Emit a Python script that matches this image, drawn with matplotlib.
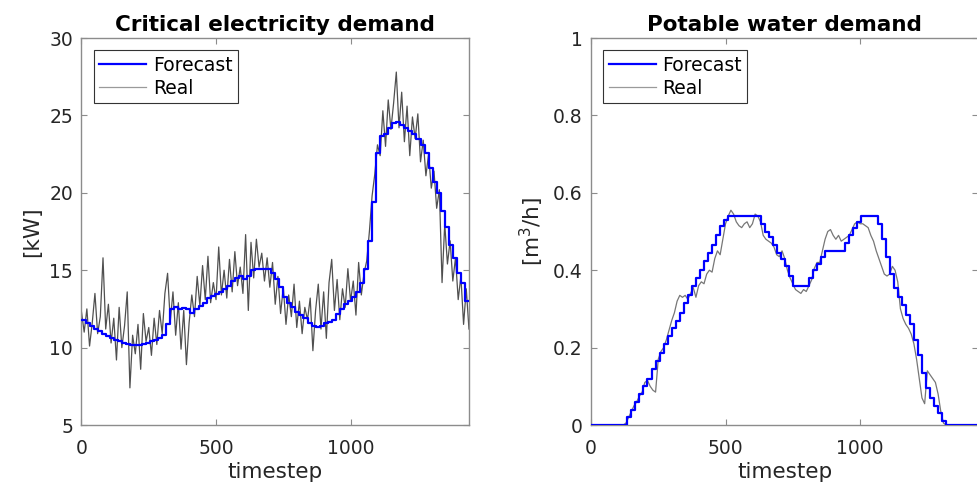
import numpy as np
import matplotlib.pyplot as plt

plt.rcParams['font.family'] = ['DejaVu Sans']

# Forecast: one value every 15 timesteps (96 steps)
step_t = np.arange(0, 1440, 15)

elec_forecast = [
    11.8, 11.6, 11.4, 11.2, 11.05, 10.9, 10.75, 10.65, 10.5, 10.4,
    10.3, 10.25, 10.2, 10.2, 10.2, 10.25, 10.3, 10.4, 10.5, 10.6,
    10.8, 11.5, 12.5, 12.6, 12.5, 12.55, 12.5, 12.25, 12.5, 12.7,
    12.9, 13.2, 13.35, 13.45, 13.6, 13.8, 14.0, 14.3, 14.5, 14.65,
    14.4, 14.6, 15.0, 15.1, 15.1, 15.1, 15.1, 14.8, 14.4, 13.9,
    13.3, 12.9, 12.6, 12.3, 12.1, 11.9, 11.6, 11.4, 11.3, 11.4,
    11.6, 11.65, 11.8, 12.2, 12.5, 12.8, 13.0, 13.3, 13.6, 14.2,
    15.1, 16.9, 19.4, 22.6, 23.7, 23.8, 24.2, 24.5, 24.6, 24.4,
    24.2, 24.0, 23.8, 23.5, 23.1, 22.6, 21.6, 20.7, 20.0, 18.8,
    17.8, 16.6, 15.8, 14.8, 14.2, 13.0,
]

water_forecast = [
    0, 0, 0, 0, 0, 0, 0, 0, 0, 0.02,
    0.04, 0.06, 0.08, 0.10, 0.12, 0.145, 0.165, 0.185, 0.21, 0.23,
    0.25, 0.27, 0.29, 0.315, 0.335, 0.36, 0.38, 0.40, 0.425, 0.445,
    0.465, 0.49, 0.515, 0.53, 0.54, 0.54, 0.54, 0.54, 0.54, 0.54,
    0.54, 0.54, 0.52, 0.50, 0.485, 0.465, 0.445, 0.43, 0.41, 0.385,
    0.36, 0.36, 0.36, 0.36, 0.38, 0.40, 0.415, 0.435, 0.45, 0.45,
    0.45, 0.45, 0.45, 0.47, 0.49, 0.51, 0.525, 0.54, 0.54, 0.54,
    0.54, 0.52, 0.48, 0.435, 0.39, 0.355, 0.33, 0.31, 0.285, 0.26,
    0.22, 0.18, 0.135, 0.095, 0.07, 0.05, 0.03, 0.01, 0, 0,
    0, 0, 0, 0, 0, 0,
]

# Real: one value every 10 timesteps
real_t = np.arange(0, 1441, 10)

elec_real = [
    12.3, 11.0, 12.5, 10.1, 11.6, 13.5, 10.9, 12.0, 15.8, 11.2,
    12.8, 10.3, 11.9, 9.2, 12.6, 10.0, 11.4, 13.6, 7.4, 10.8,
    9.6, 11.5, 8.6, 12.2, 10.4, 11.3, 9.5, 11.9, 10.2, 12.4,
    10.9, 13.5, 14.8, 11.7, 13.6, 10.8, 12.9, 9.9, 12.4, 8.9,
    11.6, 13.4, 12.0, 14.6, 12.7, 15.3, 13.1, 15.9, 12.9, 14.2,
    13.1, 16.5, 13.4, 15.0, 13.2, 15.7, 13.6, 16.2, 14.0, 15.2,
    13.5, 17.3, 12.4, 16.8, 14.5, 17.0, 15.2, 16.1, 14.3, 15.8,
    13.9, 15.5, 12.8, 14.6, 12.2, 13.9, 11.5, 13.4, 12.0, 14.1,
    11.3, 13.0, 10.9, 12.6, 11.8, 13.2, 9.8, 12.4, 14.1, 11.2,
    13.6, 10.6, 14.2, 15.7, 12.4, 14.4, 11.8, 13.8, 12.6, 15.1,
    13.0, 14.3, 12.1, 15.5, 13.4, 14.8, 15.6, 17.5, 19.8, 21.2,
    23.1, 22.4, 25.3, 23.0, 26.0, 24.1, 25.8, 27.8, 24.2, 26.5,
    23.3, 25.6, 22.4, 24.9, 23.5, 25.1, 22.0, 23.4, 21.1, 22.5,
    20.3, 21.4, 19.0, 20.2, 14.2, 18.0, 15.4, 16.9, 14.3, 15.8,
    13.1, 14.6, 11.5, 13.8, 11.2,
]

water_real = [
    0, 0, 0, 0, 0, 0, 0, 0, 0, 0, 0, 0, 0,
    0.005, 0.02, 0.035, 0.05, 0.06, 0.075, 0.085, 0.11, 0.115, 0.10,
    0.09, 0.085, 0.17, 0.19, 0.20, 0.22, 0.245, 0.27, 0.29, 0.32,
    0.335, 0.33, 0.335, 0.325, 0.34, 0.355, 0.33, 0.36, 0.37, 0.365,
    0.39, 0.40, 0.395, 0.43, 0.45, 0.44, 0.48, 0.52, 0.54, 0.555,
    0.545, 0.525, 0.515, 0.51, 0.52, 0.525, 0.51, 0.52, 0.545, 0.54,
    0.525, 0.49, 0.48, 0.475, 0.47, 0.46, 0.44, 0.435, 0.45, 0.43,
    0.40, 0.38, 0.365, 0.35, 0.345, 0.34, 0.35, 0.345, 0.36, 0.375,
    0.405, 0.42, 0.42, 0.45, 0.48, 0.50, 0.505, 0.49, 0.48, 0.49,
    0.475, 0.48, 0.485, 0.49, 0.505, 0.52, 0.525, 0.52, 0.52, 0.515,
    0.51, 0.49, 0.475, 0.45, 0.43, 0.41, 0.39, 0.385, 0.39, 0.41,
    0.40, 0.37, 0.30, 0.275, 0.26, 0.25, 0.235, 0.21, 0.17, 0.12,
    0.07, 0.055, 0.14, 0.13, 0.12, 0.11, 0.08, 0.035, 0.005,
    0, 0, 0, 0, 0, 0, 0, 0, 0, 0, 0, 0, 0,
]

x_ticks = [0, 500, 1000]
elec_ticks = [5, 10, 15, 20, 25, 30]
water_ticks = [0, 0.2, 0.4, 0.6, 0.8, 1]
water_tick_labels = ["0", "0.2", "0.4", "0.6", "0.8", "1"]

fig = plt.figure(figsize=(9.77, 4.91), dpi=100)
ax1 = fig.add_axes([0.0834, 0.1344, 0.3966, 0.7882])
ax2 = fig.add_axes([0.6049, 0.1344, 0.3966, 0.7882])

axis_gray = "#8c8c8c"
text_gray = "#262626"


def draw_panel(ax, forecast, real, real_color, title, ylabel, ylim, yticks, ytick_labels=None):
    st = np.append(step_t, 1440)
    fv = np.append(forecast, forecast[-1])
    ax.step(st, fv, where="post", color="#0000ff", lw=1.6, label="Forecast", zorder=3)
    ax.plot(real_t, real, color=real_color, lw=0.9, label="Real", zorder=2)
    ax.set_xlim(0, 1440)
    ax.set_ylim(*ylim)
    ax.set_xticks(x_ticks)
    ax.set_yticks(yticks)
    if ytick_labels is not None:
        ax.set_yticklabels(ytick_labels)
    ax.tick_params(direction="in", top=True, right=True, length=4,
                   color=axis_gray, labelsize=13.5, labelcolor=text_gray)
    ax.tick_params(axis="x", pad=10)
    ax.tick_params(axis="y", pad=6)
    for s in ax.spines.values():
        s.set_color(axis_gray)
        s.set_linewidth(1.0)
    ax.set_title(title, fontsize=15.5, fontweight="bold", pad=5)
    ax.set_xlabel("timestep", fontsize=15.5, color=text_gray, labelpad=3)
    ax.set_ylabel(ylabel, fontsize=15.5, color=text_gray, labelpad=5)
    leg = ax.legend(loc="upper left", fontsize=13.5, fancybox=False, framealpha=1,
                    borderaxespad=0.65, handlelength=2.5, handletextpad=0.35,
                    borderpad=0.3, labelspacing=0.2)
    leg.get_frame().set_edgecolor("#333333")
    leg.get_frame().set_linewidth(0.8)
    leg.get_lines()[1].set_color("#9a9a9a")


draw_panel(ax1, elec_forecast, elec_real, "#505050", "Critical electricity demand", "[kW]",
           (5, 30), elec_ticks)
draw_panel(ax2, water_forecast, water_real, "#777777", "Potable water demand", "[m$^3$/h]",
           (0, 1), water_ticks, water_tick_labels)

fig.savefig("out.png", dpi=100)
